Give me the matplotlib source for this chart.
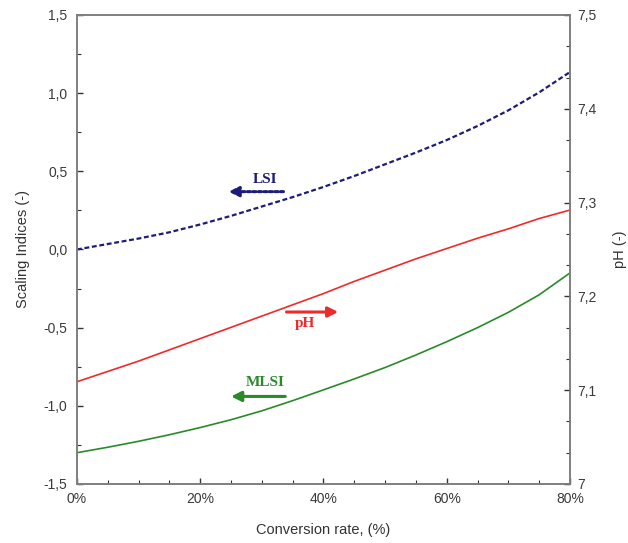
import matplotlib
matplotlib.use("Agg")
import matplotlib.pyplot as plt
from matplotlib.ticker import FuncFormatter, MultipleLocator, AutoMinorLocator

conv = [0, 5, 10, 15, 20, 25, 30, 35, 40, 45, 50, 55, 60, 65, 70, 75, 80]
lsi = [0.0, 0.035, 0.07, 0.11, 0.16, 0.215, 0.275, 0.335, 0.40, 0.47, 0.545,
       0.62, 0.70, 0.79, 0.89, 1.005, 1.135]
ph = [7.109, 7.120, 7.131, 7.143, 7.155, 7.167, 7.179, 7.191, 7.203, 7.216,
      7.228, 7.240, 7.251, 7.262, 7.272, 7.283, 7.292]
mlsi = [-1.30, -1.265, -1.227, -1.185, -1.139, -1.089, -1.032, -0.967, -0.898,
        -0.828, -0.755, -0.675, -0.59, -0.50, -0.402, -0.29, -0.15]

plt.rcParams['font.family'] = ['Liberation Sans', 'DejaVu Sans']

fig = plt.figure(figsize=(6.28, 5.43), dpi=100)
ax = fig.add_axes([0.1226, 0.1087, 0.785, 0.8637])
ax2 = ax.twinx()

navy = '#1c1c7a'
red = '#ee2b2b'
green = '#2a8a2a'
gray = '#7f7f7f'

ax.plot(conv, lsi, color=navy, lw=1.6, ls=(0, (2.2, 1.2)))
ax.plot(conv, mlsi, color=green, lw=1.2)
ax2.plot(conv, ph, color=red, lw=1.2)

ax.set_xlim(0, 80)
ax.set_ylim(-1.5, 1.5)
ax2.set_ylim(7.0, 7.5)

ax.xaxis.set_major_locator(MultipleLocator(20))
ax.xaxis.set_minor_locator(MultipleLocator(5))
ax.yaxis.set_major_locator(MultipleLocator(0.5))
ax.yaxis.set_minor_locator(MultipleLocator(0.25))
ax2.yaxis.set_major_locator(MultipleLocator(0.1))
ax2.yaxis.set_minor_locator(AutoMinorLocator(3))

ax.xaxis.set_major_formatter(FuncFormatter(lambda v, p: f"{v:.0f}%"))
ax.yaxis.set_major_formatter(FuncFormatter(lambda v, p: f"{v:.1f}".replace('.', ',').replace('-0,0', '0,0')))
def phfmt(v, p):
    s = f"{v:.1f}".replace('.', ',')
    return '7' if s == '7,0' else s
ax2.yaxis.set_major_formatter(FuncFormatter(phfmt))

for a in (ax, ax2):
    for sp in a.spines.values():
        sp.set_color(gray)
        sp.set_linewidth(1.2)
    a.tick_params(which='both', direction='in', colors='#333333', labelsize=10, labelcolor='#3a3a3a')
    a.tick_params(which='major', length=4, width=1.0)
    a.tick_params(which='minor', length=3, width=0.8)
ax.tick_params(axis='x', pad=6)
ax.tick_params(axis='y', pad=7)
ax2.tick_params(axis='y', pad=5)

ax.set_xlabel('Conversion rate, (%)', fontsize=10.5, color='#333333', labelpad=12)
ax.set_ylabel('Scaling Indices (-)', fontsize=10.5, color='#333333', labelpad=10)
ax2.set_ylabel('pH (-)', fontsize=10.5, color='#333333', rotation=90, labelpad=12)

tfont = dict(family=['Liberation Serif', 'DejaVu Serif'], fontweight='bold', fontsize=11, ha='center', va='center')

# LSI annotation
ax.annotate('', xy=(24.6, 0.37), xytext=(33.5, 0.37),
            arrowprops=dict(arrowstyle='-|>,head_length=0.6,head_width=0.3', color=navy, lw=2.2,
                            linestyle=(0, (1, 0.8)), shrinkA=0, shrinkB=0))
ax.text(30.5, 0.45, 'LSI', color=navy, **tfont)

# pH annotation
ax.annotate('', xy=(42.4, -0.40), xytext=(34.0, -0.40),
            arrowprops=dict(arrowstyle='-|>,head_length=0.6,head_width=0.3', color=red, lw=2.2,
                            shrinkA=0, shrinkB=0))
ax.text(37.0, -0.475, 'pH', color=red, **tfont)

# MLSI annotation
ax.annotate('', xy=(25.0, -0.94), xytext=(33.8, -0.94),
            arrowprops=dict(arrowstyle='-|>,head_length=0.6,head_width=0.3', color=green, lw=2.2,
                            shrinkA=0, shrinkB=0))
ax.text(30.5, -0.85, 'MLSI', color=green, **tfont)

fig.savefig('out.png', dpi=100)
